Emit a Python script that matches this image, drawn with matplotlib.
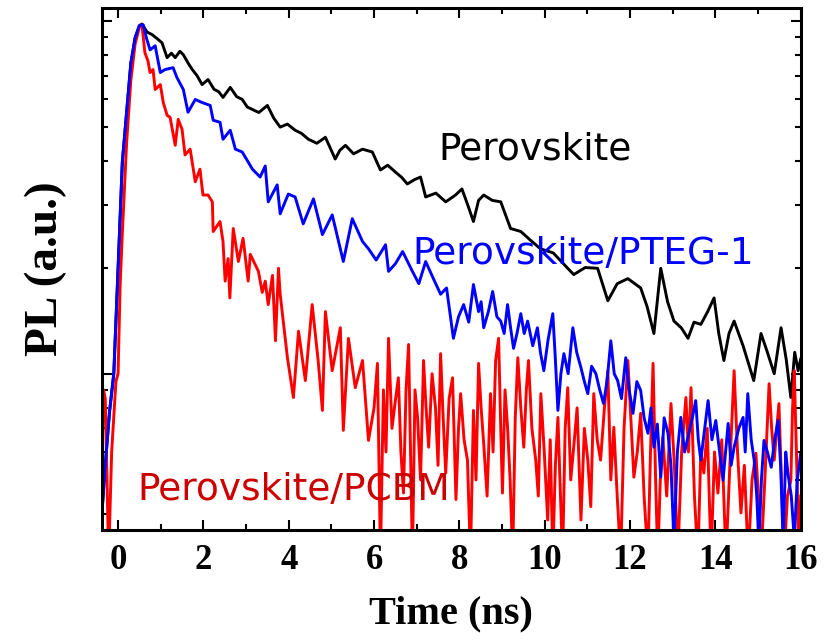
import matplotlib.pyplot as plt
from matplotlib.ticker import LogLocator, MultipleLocator, NullFormatter

# Perovskite (black)
t_pvk = [-0.38, -0.3, -0.2, -0.1, 0.0, 0.1, 0.2, 0.3, 0.4, 0.5, 0.56, 0.68, 0.80, 0.92,
         1.03, 1.15, 1.25, 1.34, 1.45, 1.53, 1.64, 1.74, 1.85, 1.97, 2.11, 2.25, 2.36,
         2.46, 2.63, 2.78, 2.91, 3.03, 3.15, 3.30, 3.50, 3.65, 3.80, 3.97, 4.15, 4.30,
         4.46, 4.66, 4.86, 5.09, 5.20, 5.33, 5.52, 5.73, 5.96, 6.15, 6.32, 6.50, 6.65,
         6.78, 6.95, 7.09, 7.21, 7.45, 7.68, 7.91, 8.06, 8.20, 8.33, 8.45, 8.57, 8.77,
         8.97, 9.2, 9.44, 9.65, 9.9, 10.2, 10.54, 10.68, 10.95, 11.24, 11.48, 11.7,
         11.95, 12.25, 12.4, 12.56, 12.72, 12.88, 13.03, 13.2, 13.36, 13.5, 13.66,
         13.82, 13.97, 14.08, 14.2, 14.32, 14.44, 14.65, 14.9, 15.07, 15.22, 15.38,
         15.54, 15.66, 15.77, 15.86, 15.94, 16.0]
pl_pvk = [0.40, 0.55, 0.78, 1.0, 1.98, 3.98, 5.5, 7.6, 8.96, 9.7, 9.8, 9.3, 9.14, 8.9,
          8.67, 7.87, 8.1, 7.87, 8.2, 8.02, 7.6, 7.28, 7.0, 6.6, 6.82, 6.4, 6.3,
          6.07, 6.48, 6.1, 5.99, 5.7, 5.61, 5.5, 5.76, 5.3, 5.0, 5.1, 4.9, 4.8,
          4.62, 4.5, 4.68, 4.06, 4.3, 4.44, 4.2, 4.33, 4.25, 3.78, 3.9, 3.73, 3.6,
          3.45, 3.55, 3.61, 3.17, 3.25, 3.07, 3.21, 3.34, 3.0, 2.7, 3.1, 3.21, 3.1,
          3.07, 2.58, 2.53, 2.4, 2.26, 2.2, 1.99, 1.91, 2.0, 1.99, 1.61, 1.8,
          1.86, 1.75, 1.55, 1.3, 1.99, 1.6, 1.41, 1.35, 1.26, 1.4, 1.38,
          1.5, 1.64, 1.3, 1.09, 1.3, 1.41, 1.2, 0.956, 1.3, 1.15, 1.0,
          1.35, 1.1, 0.856, 1.15, 1.02, 1.1]

# Perovskite/PTEG-1 (blue)
t_pteg = [-0.38, -0.3, -0.2, -0.1, 0.0, 0.1, 0.2, 0.3, 0.4, 0.5, 0.59, 0.67, 0.75,
          0.87, 0.99, 1.10, 1.29, 1.38, 1.53, 1.64, 1.81, 1.97, 2.16, 2.23, 2.39,
          2.46, 2.63, 2.75, 2.91, 3.15, 3.33, 3.45, 3.52, 3.73, 3.80, 3.99, 4.15,
          4.34, 4.58, 4.79, 5.02, 5.28, 5.49, 5.73, 5.87, 6.05, 6.27, 6.34, 6.50,
          6.67, 6.90, 7.05, 7.21, 7.40, 7.56, 7.70, 7.86, 7.98, 8.10, 8.22, 8.33,
          8.45, 8.51, 8.57, 8.68, 8.78, 8.88, 8.97, 9.05, 9.13, 9.20, 9.27, 9.35,
          9.44, 9.52, 9.60, 9.72, 9.83, 9.90, 9.98, 10.08, 10.19, 10.25, 10.31,
          10.38, 10.45, 10.55, 10.66, 10.75, 10.85, 10.93, 11.01, 11.10, 11.20,
          11.29, 11.38, 11.46, 11.55, 11.63, 11.71, 11.80, 11.90, 11.98, 12.07,
          12.16, 12.25, 12.33, 12.42, 12.49, 12.56, 12.64, 12.72, 12.80, 12.89,
          12.96, 13.03, 13.11, 13.19, 13.28, 13.38, 13.46, 13.54, 13.60, 13.66,
          13.75, 13.83, 13.92, 14.01, 14.10, 14.18, 14.24, 14.30, 14.37, 14.44,
          14.55, 14.65, 14.70, 14.76, 14.84, 14.91, 14.97, 15.02, 15.08, 15.14,
          15.22, 15.31, 15.39, 15.47, 15.53, 15.59, 15.65, 15.70, 15.78, 15.85,
          15.92, 16.0]
pl_pteg = [0.40, 0.55, 0.78, 1.0, 1.98, 3.98, 5.5, 7.6, 8.96, 9.7, 9.75, 8.9, 8.28,
           8.5, 7.14, 7.28, 7.37, 6.91, 6.39, 5.51, 5.99, 5.87, 5.76, 5.23, 5.16,
           4.62, 4.9, 4.33, 4.25, 3.8, 3.61, 3.88, 3.07, 3.43, 2.84, 3.23, 3.17,
           2.66, 3.13, 2.48, 2.82, 2.08, 2.75, 2.37, 2.26, 2.1, 2.32, 1.95, 2.05,
           2.22, 1.95, 1.8, 2.08, 1.85, 1.68, 1.75, 1.26, 1.45, 1.57, 1.4, 1.79,
           1.5, 1.6, 1.35, 1.5, 1.71, 1.45, 1.41, 1.3, 1.57, 1.35, 1.18, 1.3,
           1.48, 1.3, 1.41, 1.2, 1.35, 1.15, 1.02, 1.25, 1.48, 1.1, 0.787,
           1.0, 1.14, 1.0, 1.35, 1.15, 1.04, 0.95, 0.878, 1.05, 1.0,
           0.9, 0.823, 0.95, 1.24, 1.0, 0.956, 0.85, 1.11, 0.9, 0.772,
           0.95, 0.896, 0.75, 0.678, 0.8, 0.619, 0.72, 0.509, 0.75, 0.678,
           0.55, 0.33, 0.6, 0.752, 0.6, 0.678, 0.75, 0.839, 0.65, 0.569,
           0.7, 0.839, 0.65, 0.737, 0.6, 0.499, 0.6, 0.723, 0.55, 0.619,
           0.7, 0.752, 0.6, 0.878, 0.65, 0.569, 0.45, 0.33, 0.5, 0.647,
           0.6, 0.543, 0.65, 0.737, 0.55, 0.33, 0.6, 0.523, 0.45, 0.34,
           0.5, 0.595]

# Perovskite/PCBM (red)
t_pcbm = [-0.38, -0.34, -0.3, -0.22, -0.15, -0.05, 0.0, 0.05, 0.1, 0.2, 0.3, 0.4, 0.5,
          0.56, 0.63, 0.70, 0.75, 0.82, 0.87, 0.99, 1.06, 1.15, 1.22, 1.34, 1.41,
          1.50, 1.57, 1.69, 1.81, 1.92, 1.99, 2.11, 2.21, 2.23, 2.39, 2.46, 2.51,
          2.58, 2.62, 2.70, 2.82, 2.93, 3.05, 3.10, 3.29, 3.38, 3.45, 3.52, 3.62,
          3.69, 3.76, 3.80, 3.97, 4.11, 4.23, 4.39, 4.55, 4.69, 4.79, 4.86, 5.02,
          5.21, 5.28, 5.40, 5.56, 5.73, 5.87, 6.00, 6.08, 6.15, 6.22, 6.28, 6.34,
          6.42, 6.50, 6.57, 6.63, 6.69, 6.75, 6.81, 6.86, 6.90, 6.96, 7.02, 7.09,
          7.16, 7.22, 7.28, 7.36, 7.44, 7.50, 7.56, 7.62, 7.68, 7.76, 7.84, 7.92,
          7.98, 8.03, 8.11, 8.19, 8.26, 8.33, 8.39, 8.45, 8.51, 8.57, 8.65, 8.73,
          8.79, 8.85, 8.92, 8.97, 9.01, 9.07, 9.13, 9.19, 9.25, 9.31, 9.37, 9.44,
          9.51, 9.57, 9.62, 9.70, 9.79, 9.85, 9.91, 9.99, 10.07, 10.13, 10.19,
          10.25, 10.31, 10.37, 10.42, 10.48, 10.54, 10.61, 10.68, 10.76, 10.85,
          10.93, 11.01, 11.08, 11.15, 11.23, 11.31, 11.40, 11.48, 11.55, 11.62,
          11.70, 11.78, 11.86, 11.95, 12.02, 12.09, 12.17, 12.25, 12.33, 12.42,
          12.48, 12.54, 12.60, 12.65, 12.71, 12.77, 12.86, 12.96, 13.04, 13.12,
          13.21, 13.31, 13.37, 13.43, 13.51, 13.59, 13.66, 13.73, 13.81, 13.90,
          13.98, 14.06, 14.15, 14.25, 14.34, 14.44, 14.52, 14.60, 14.68, 14.77,
          14.86, 14.95, 15.01, 15.07, 15.16, 15.26, 15.32, 15.38, 15.44, 15.49,
          15.55, 15.61, 15.69, 15.77, 15.81, 15.85, 15.90, 15.96, 16.0]
pl_pcbm = [0.55, 0.9, 0.85, 0.3, 0.6, 0.95, 1.0, 1.8, 2.5, 4.5, 6.8, 8.6, 9.6,
           9.75, 8.12, 7.71, 7.14, 7.28, 6.39, 6.6, 5.87, 5.4, 5.33, 4.44, 5.26,
           4.93, 4.17, 4.33, 3.5, 3.8, 3.21, 3.21, 3.07, 2.53, 2.7, 2.37, 1.83,
           2.12, 1.64, 2.58, 2.08, 2.42, 1.83, 2.18, 1.95, 1.7, 1.83, 1.57, 1.9,
           1.24, 1.99, 1.68, 1.11, 0.856, 1.32, 0.956, 1.57, 1.09, 0.787, 1.5, 1.02,
           1.35, 0.691, 1.26, 0.913, 1.09, 0.647, 0.8, 1.07, 0.3, 0.9, 0.6, 1.26,
           0.7, 0.839, 0.974, 0.6, 0.459, 0.9, 1.21, 0.55, 0.3, 0.9, 0.752, 0.5,
           1.09, 0.8, 0.619, 1.0, 0.802, 0.55, 1.14, 0.75, 0.523, 0.85, 0.974, 0.44,
           0.7, 0.878, 0.65, 0.569, 0.3, 0.787, 0.5, 1.07, 0.8, 0.635, 0.45, 0.878,
           0.6, 1.09, 1.26, 0.7, 0.459, 0.9, 0.705, 0.5, 0.3, 0.75, 1.11, 0.8,
           0.619, 0.9, 1.09, 0.7, 0.569, 0.45, 0.878, 0.6, 0.385, 0.65, 0.3,
           0.55, 0.752, 0.45, 0.3, 0.7, 0.913, 0.5, 0.619, 0.8, 0.385,
           0.7, 0.569, 0.42, 0.878, 0.65, 0.569, 0.8, 1.02, 0.5, 0.705,
           0.45, 0.3, 0.7, 1.09, 0.75, 0.509, 0.6, 0.772, 0.45, 0.3,
           0.6, 1.07, 0.5, 0.3, 0.5, 0.66, 0.45, 0.823, 0.55, 0.3,
           0.6, 0.856, 0.6, 0.913, 0.45, 0.3, 0.6, 0.523, 0.7, 0.3,
           0.6, 0.459, 0.65, 0.3, 0.55, 1.02, 0.6, 0.403, 0.55, 0.3,
           0.5, 0.595, 0.45, 0.3, 0.5, 0.937, 0.7, 0.569, 0.7, 0.823,
           0.5, 0.3, 0.45, 0.499, 0.8, 1.02, 0.6, 0.3, 0.45]

xticks = [0, 2, 4, 6, 8, 10, 12, 14, 16]

fig, ax = plt.subplots(figsize=(8.28, 6.43), dpi=100)
fig.subplots_adjust(left=0.123, right=0.967, bottom=0.176, top=0.988)

ax.plot(t_pvk, pl_pvk, color="black", lw=2.1)
ax.plot(t_pcbm, pl_pcbm, color="red", lw=2.1)
ax.plot(t_pteg, pl_pteg, color="blue", lw=2.1)

ax.set_yscale("log")
ax.set_xlim(-0.38, 16)
ax.set_ylim(0.361, 10.9)

ax.set_xticks(xticks)
ax.xaxis.set_minor_locator(MultipleLocator(1))
ax.yaxis.set_major_locator(LogLocator(base=10))
ax.yaxis.set_minor_locator(LogLocator(base=10, subs=range(2, 10)))
ax.yaxis.set_major_formatter(NullFormatter())
ax.yaxis.set_minor_formatter(NullFormatter())
ax.tick_params(which="both", direction="in", top=True, right=True, width=1.5)
ax.tick_params(which="major", length=7)
ax.tick_params(which="minor", length=4)
ax.tick_params(axis="x", which="major", pad=10, labelsize=25)
for lab in ax.get_xticklabels():
    lab.set_fontfamily("Liberation Serif")
    lab.set_fontweight("bold")
for sp in ax.spines.values():
    sp.set_linewidth(2.2)

ax.set_xlabel("Time (ns)", fontsize=29, fontfamily="Liberation Serif", fontweight="bold")
ax.xaxis.set_label_coords(0.5, -0.125)
ax.set_ylabel("PL (a.u.)", fontsize=34, fontfamily="Liberation Serif", fontweight="bold")
ax.yaxis.set_label_coords(-0.05, 0.5)

ax.text(7.51, 4.06, "Perovskite", color="black", fontsize=27, va="baseline")
ax.text(6.90, 2.05, "Perovskite/PTEG-1", color="blue", fontsize=27, va="baseline")
ax.text(0.45, 0.439, "Perovskite/PCBM", color="#cc0000", fontsize=27, va="baseline")

fig.savefig("out.png", dpi=100)
